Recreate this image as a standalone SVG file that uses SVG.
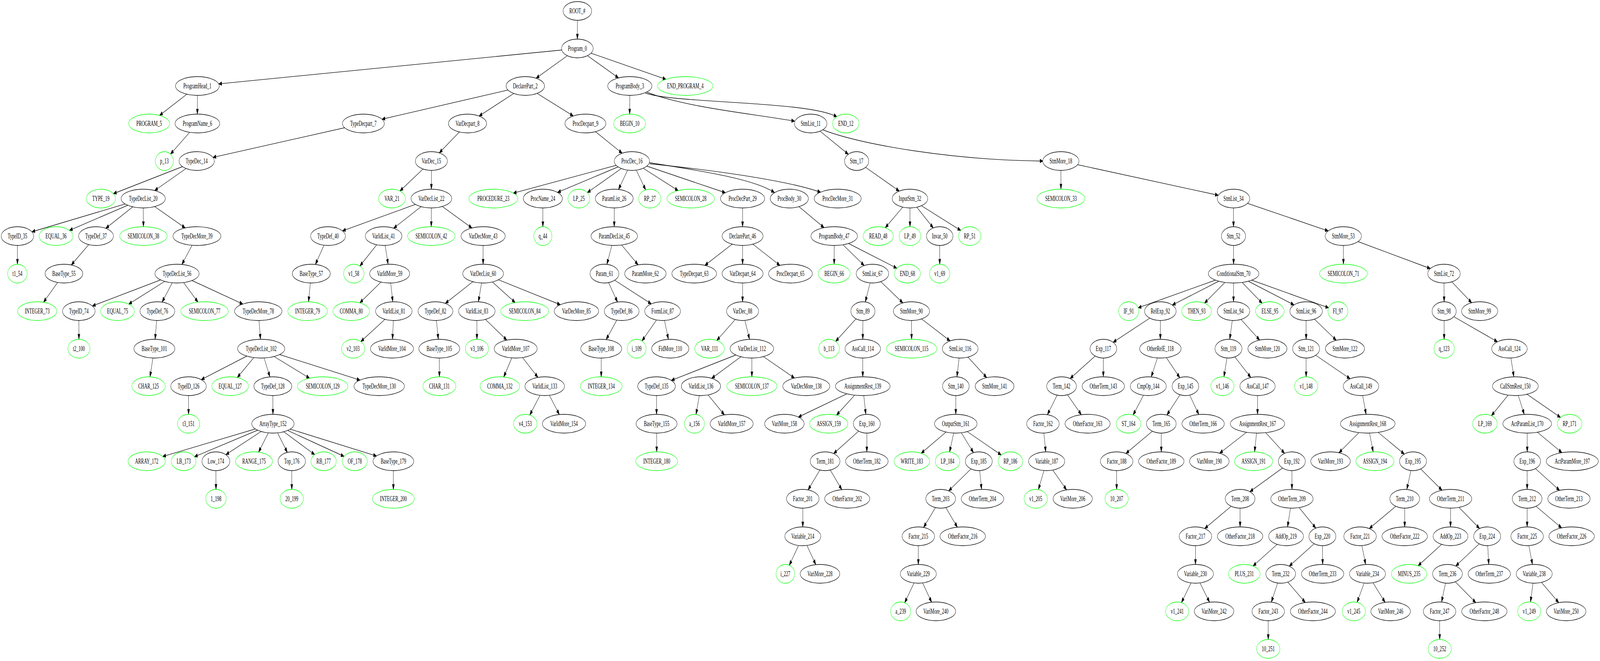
<svg xmlns="http://www.w3.org/2000/svg" width="6882" height="1691" viewBox="0 0 6882 1691" preserveAspectRatio="none" style="width:100vw;height:100vh;display:block">
<defs>
<style>
.k ellipse{fill:#fff;stroke:#000;stroke-width:1.32}
.g ellipse{fill:#fff;stroke:#00ff00;stroke-width:1.32}
text{font-family:"Liberation Serif","Times New Roman",serif;font-size:18.5px;text-anchor:middle;fill:#000}
#edges path{fill:none;stroke:#000;stroke-width:1.32}
</style>
<marker id="a" markerUnits="userSpaceOnUse" markerWidth="16" markerHeight="12" viewBox="-1 -1 16 12" refX="13" refY="4.6" orient="auto">
<path d="M0,0 L13,4.6 L0,9.2 Z" fill="#000" stroke="#000" stroke-width="1"/>
</marker>
</defs>
<rect width="6882" height="1691" fill="#fff"/>
<g id="edges" marker-end="url(#a)">
<path d="M2483.5,28 L2483.5,100"/>
<path d="M2483.5,124 L940.6,214.6"/>
<path d="M2483.5,124 L2305.8,200.1"/>
<path d="M2483.5,124 L2660.5,199.4"/>
<path d="M2483.5,124 L2864.5,202.8"/>
<path d="M849,220 L686.2,295.3"/>
<path d="M849,220 L849,292"/>
<path d="M2259.5,220 L1642.9,305"/>
<path d="M2259.5,220 L2060.5,296.9"/>
<path d="M2259.5,220 L2465.9,296.7"/>
<path d="M2709,220 L2708.4,292"/>
<path d="M2783,236 C2950,275 3250,292 3418,310"/>
<path d="M2776,238 C2900,265 3480,258 3600,299"/>
<path d="M849,316 L733.3,394.3"/>
<path d="M1563,316 L916,402.6"/>
<path d="M2011,316 L1889.4,391.1"/>
<path d="M2518,316 L2676.2,392"/>
<path d="M3487,316 L3648.8,394.6"/>
<path d="M3539,332 C3700,370 4100,410 4486,412"/>
<path d="M846,412 L487.7,495.5"/>
<path d="M846,412 L665.2,487.5"/>
<path d="M1855.5,412 L1720.2,488.6"/>
<path d="M1855.5,412 L1855.5,484"/>
<path d="M2718,412 L2207.8,494.2"/>
<path d="M2718,412 L2398.2,492.2"/>
<path d="M2718,412 L2526.3,492.7"/>
<path d="M2718,412 L2660.5,484.6"/>
<path d="M2718,412 L2777.1,485.7"/>
<path d="M2718,412 L2917.2,487.6"/>
<path d="M2718,412 L3119.8,493"/>
<path d="M2792,416 C3050,440 3250,460 3331,492.5"/>
<path d="M2794,419 C3150,440 3420,468 3530,492"/>
<path d="M3684.6,412 L3868.1,488.8"/>
<path d="M4563,412 L4563.5,484"/>
<path d="M4563,412 L5240.1,499.5"/>
<path d="M616,508 L137.2,593"/>
<path d="M616,508 L298.6,589.3"/>
<path d="M616,508 L455,584.1"/>
<path d="M616,508 L617,580"/>
<path d="M616,508 L796.6,583.1"/>
<path d="M1855.5,508 L1473.2,590.6"/>
<path d="M1855.5,508 L1693.1,583.9"/>
<path d="M1855.5,508 L1855,580"/>
<path d="M1855.5,508 L2030,583.3"/>
<path d="M2335,508 L2335,580"/>
<path d="M2642,508 L2642,580"/>
<path d="M3194,508 L3194,580"/>
<path d="M3395,508 L3544.5,582.4"/>
<path d="M3914,508 L3807.7,582.8"/>
<path d="M3914,508 L3914,580"/>
<path d="M3914,508 L4014.1,583.1"/>
<path d="M3914,508 L4132.5,589.6"/>
<path d="M5305.6,508 L5305.6,580"/>
<path d="M5305.6,508 L5712.9,590.8"/>
<path d="M75,604 L75,676"/>
<path d="M413,604 L306.7,677.9"/>
<path d="M847,604 L782.4,676.6"/>
<path d="M1411,604 L1356.6,676.6"/>
<path d="M1650,604 L1547.9,680.6"/>
<path d="M1650,604 L1669.5,676.1"/>
<path d="M2078,604 L2078,676"/>
<path d="M2642,604 L2610.4,676.3"/>
<path d="M2642,604 L2744.6,677.5"/>
<path d="M3194,604 L3031.7,678.9"/>
<path d="M3194,604 L3194,676"/>
<path d="M3194,604 L3354.8,679"/>
<path d="M3588,604 L3588,676"/>
<path d="M3588,604 L3717.1,679.3"/>
<path d="M3588,604 L3857.4,686.1"/>
<path d="M4042,604 L4042,676"/>
<path d="M5305.6,604 L5306,676"/>
<path d="M5778,604 L5778.5,676"/>
<path d="M5778,604 L6152.2,687"/>
<path d="M275,700 L187.2,773.3"/>
<path d="M761.5,700 L397.3,782.7"/>
<path d="M761.5,700 L553.6,778"/>
<path d="M761.5,700 L697.3,772.9"/>
<path d="M761.5,700 L851.5,773"/>
<path d="M761.5,700 L1044.6,777.8"/>
<path d="M1339,700 L1327,772.1"/>
<path d="M1676,700 L1547.6,774.7"/>
<path d="M1676,700 L1689.5,772"/>
<path d="M2078,700 L1915.3,776.2"/>
<path d="M2078,700 L2057.7,772.1"/>
<path d="M2078,700 L2216,774"/>
<path d="M2078,700 L2410.2,779.5"/>
<path d="M2600,700 L2656,772.7"/>
<path d="M2600,700 L2801.5,777.4"/>
<path d="M3194,700 L3194,772"/>
<path d="M3752.6,700 L3721.7,772.5"/>
<path d="M3752.6,700 L3883.5,774.9"/>
<path d="M5306,700 L4895.6,787.4"/>
<path d="M5306,700 L5042.5,780.3"/>
<path d="M5306,700 L5180.8,775.6"/>
<path d="M5306,700 L5305.6,772"/>
<path d="M5306,700 L5429.1,775.7"/>
<path d="M5306,700 L5565.9,780"/>
<path d="M5306,700 L5714.8,787.4"/>
<path d="M6211,700 L6211.6,772"/>
<path d="M6211,700 L6330.1,774.5"/>
<path d="M339,796 L339.5,868"/>
<path d="M677,796 L667.2,868"/>
<path d="M1111,796 L1120.4,868"/>
<path d="M1694,796 L1551.9,873.9"/>
<path d="M1694,796 L1688,868"/>
<path d="M1873,796 L1885.4,868"/>
<path d="M2051,796 L2051.5,868"/>
<path d="M2051,796 L2179.9,870.1"/>
<path d="M2674,796 L2607.3,868.7"/>
<path d="M2850,796 L2761.4,872.2"/>
<path d="M2850,796 L2874.8,868.1"/>
<path d="M3194,796 L3083,871"/>
<path d="M3194,796 L3224.1,868.1"/>
<path d="M3711.7,796 L3594.2,873.4"/>
<path d="M3711.7,796 L3711,868"/>
<path d="M3920.5,796 L3921,868"/>
<path d="M3920.5,796 L4086.7,872.2"/>
<path d="M4991,796 L4787.9,875.6"/>
<path d="M4991,796 L4991,868"/>
<path d="M5305.6,796 L5289.4,868.1"/>
<path d="M5305.6,796 L5418.1,870"/>
<path d="M5618,796 L5618,868"/>
<path d="M5618,796 L5747.6,870.5"/>
<path d="M6211.6,796 L6211.6,868"/>
<path d="M6211.6,796 L6440.8,874.3"/>
<path d="M664,892 L645.2,964.1"/>
<path d="M1123.5,892 L865.7,971.2"/>
<path d="M1123.5,892 L1020.7,965.9"/>
<path d="M1123.5,892 L1161.1,964.3"/>
<path d="M1123.5,892 L1331.5,967.5"/>
<path d="M1123.5,892 L1548.5,972.4"/>
<path d="M1889.5,892 L1890,964"/>
<path d="M2218,892 L2166.7,964.5"/>
<path d="M2218,892 L2313.7,965.5"/>
<path d="M2586,892 L2586,964"/>
<path d="M3234,892 L2887.6,973.1"/>
<path d="M3234,892 L3060.9,967.9"/>
<path d="M3234,892 L3234,964"/>
<path d="M3234,892 L3417.4,967.2"/>
<path d="M3711,892 L3711,964"/>
<path d="M4130,892 L4116,964"/>
<path d="M4130,892 L4244.2,966.1"/>
<path d="M4746,892 L4602.8,968.4"/>
<path d="M4746,892 L4745.6,964"/>
<path d="M4991,892 L4951.8,964.3"/>
<path d="M4991,892 L5074.6,966.3"/>
<path d="M5284,892 L5264.4,964.2"/>
<path d="M5284,892 L5380.1,965.8"/>
<path d="M5618,892 L5618,964"/>
<path d="M5618,892 L5807.3,969"/>
<path d="M6492.5,892 L6511.6,964"/>
<path d="M811,988 L811,1060"/>
<path d="M1173.5,988 L1174,1060"/>
<path d="M2343,988 L2278.8,1061.8"/>
<path d="M2343,988 L2405.7,1060.6"/>
<path d="M2824,988 L2824,1060"/>
<path d="M3015,988 L2993.9,1060.3"/>
<path d="M3015,988 L3115.9,1061.4"/>
<path d="M3711,988 L3433.8,1067"/>
<path d="M3711,988 L3598,1062.1"/>
<path d="M3711,988 L3724.1,1060.1"/>
<path d="M4111.4,988 L4111,1060"/>
<path d="M4566,988 L4505.2,1060.9"/>
<path d="M4566,988 L4651.1,1060.9"/>
<path d="M4939,988 L4873.7,1061.7"/>
<path d="M5099,988 L5019.1,1061.8"/>
<path d="M5099,988 L5156.4,1060.5"/>
<path d="M5409,988 L5409,1060"/>
<path d="M5854,988 L5875.8,1060"/>
<path d="M6518,988 L6414.9,1063.6"/>
<path d="M6518,988 L6556.3,1060.2"/>
<path d="M6518,988 L6712.2,1067.9"/>
<path d="M1174,1084 L699.9,1167.8"/>
<path d="M1174,1084 L836.4,1168.4"/>
<path d="M1174,1084 L971.5,1163.2"/>
<path d="M1174,1084 L1112.2,1156.8"/>
<path d="M1174,1084 L1235.8,1157.3"/>
<path d="M1174,1084 L1353.5,1163"/>
<path d="M1174,1084 L1480,1167.5"/>
<path d="M1174,1084 L1619.5,1166.6"/>
<path d="M2824,1084 L2824.7,1156"/>
<path d="M3728.5,1084 L3585.7,1160.4"/>
<path d="M3728.5,1084 L3728.5,1156"/>
<path d="M4111,1084 L3962.2,1159.6"/>
<path d="M4111,1084 L4084.3,1156.3"/>
<path d="M4111,1084 L4187.2,1157.9"/>
<path d="M4111,1084 L4306.6,1163.9"/>
<path d="M4486,1084 L4498,1156"/>
<path d="M4995,1084 L4842.6,1160.2"/>
<path d="M4995,1084 L4995,1156"/>
<path d="M5409,1084 L5245.9,1159.5"/>
<path d="M5409,1084 L5396.2,1156"/>
<path d="M5409,1084 L5525.4,1159.7"/>
<path d="M5883,1084 L5759.2,1158.3"/>
<path d="M5883,1084 L5906.3,1156.1"/>
<path d="M5883,1084 L6040.4,1161.6"/>
<path d="M6569,1084 L6569,1156"/>
<path d="M6569,1084 L6718.3,1158"/>
<path d="M928.6,1180 L929,1252"/>
<path d="M1255,1180 L1255,1252"/>
<path d="M1692,1180 L1692,1252"/>
<path d="M3549,1180 L3475.7,1253.3"/>
<path d="M3549,1180 L3620.9,1252.7"/>
<path d="M4210,1180 L4080.5,1255.8"/>
<path d="M4210,1180 L4222,1252"/>
<path d="M4502,1180 L4466.4,1252.6"/>
<path d="M4502,1180 L4587.4,1253.2"/>
<path d="M4803,1180 L4803,1252"/>
<path d="M5556.5,1180 L5376,1257.9"/>
<path d="M5556.5,1180 L5557,1252"/>
<path d="M6077.7,1180 L6050.8,1252.2"/>
<path d="M6077.7,1180 L6202.5,1254.1"/>
<path d="M6569,1180 L6568.6,1252"/>
<path d="M6569,1180 L6708.3,1254.5"/>
<path d="M3453,1276 L3453,1348"/>
<path d="M4046,1276 L3972.7,1349.3"/>
<path d="M4046,1276 L4117.9,1348.7"/>
<path d="M5334,1276 L5181.6,1352.2"/>
<path d="M5334,1276 L5334,1348"/>
<path d="M5557,1276 L5538,1348.1"/>
<path d="M5557,1276 L5659.5,1351.1"/>
<path d="M6042,1276 L5889.6,1352.2"/>
<path d="M6042,1276 L6042,1348"/>
<path d="M6239.4,1276 L6239,1348"/>
<path d="M6239.4,1276 L6364.2,1352.1"/>
<path d="M6568.6,1276 L6568.6,1348"/>
<path d="M6568.6,1276 L6717,1350.5"/>
<path d="M3453,1372 L3395,1446.3"/>
<path d="M3453,1372 L3508.9,1444.6"/>
<path d="M3950,1372 L3950,1444"/>
<path d="M5142,1372 L5142,1444"/>
<path d="M5531.7,1372 L5389.5,1448"/>
<path d="M5688,1372 L5545.3,1448.4"/>
<path d="M5688,1372 L5689,1444"/>
<path d="M5850,1372 L5874,1444.1"/>
<path d="M6239,1372 L6099.5,1447.3"/>
<path d="M6396.7,1372 L6261.5,1448"/>
<path d="M6396.7,1372 L6403.6,1444"/>
<path d="M6568.6,1372 L6591.4,1444.1"/>
<path d="M3950,1468 L3891.4,1542"/>
<path d="M3950,1468 L4007.1,1540.6"/>
<path d="M5142,1468 L5081.8,1541.7"/>
<path d="M5142,1468 L5202.5,1540.6"/>
<path d="M5508.6,1468 L5468.2,1540.4"/>
<path d="M5508.6,1468 L5614.4,1541.4"/>
<path d="M5882,1468 L5837.1,1541"/>
<path d="M5882,1468 L5957.6,1541"/>
<path d="M6226,1468 L6200.4,1540.2"/>
<path d="M6226,1468 L6347.9,1541.8"/>
<path d="M6599,1468 L6583,1540.1"/>
<path d="M6599,1468 L6704.6,1541.8"/>
<path d="M5455,1564 L5455,1636"/>
<path d="M6192,1564 L6192.5,1636"/>
</g>
<g id="nodes">
<g id="n-ROOT" class="k"><ellipse cx="2483.5" cy="28" rx="61.5" ry="24"/><text x="2483.5" y="34">ROOT_#</text></g>
<g id="n-Program_0" class="k"><ellipse cx="2483.5" cy="124" rx="68" ry="24"/><text x="2483.5" y="130">Program_0</text></g>
<g id="n-ProgramHead_1" class="k"><ellipse cx="849" cy="220" rx="94" ry="24"/><text x="849" y="226">ProgramHead_1</text></g>
<g id="n-DeclarePart_2" class="k"><ellipse cx="2259.5" cy="220" rx="82.5" ry="24"/><text x="2259.5" y="226">DeclarePart_2</text></g>
<g id="n-ProgramBody_3" class="k"><ellipse cx="2709" cy="220" rx="95" ry="24"/><text x="2709" y="226">ProgramBody_3</text></g>
<g id="n-END_PROGRAM_4" class="g"><ellipse cx="2947.6" cy="220" rx="119" ry="24"/><text x="2947.6" y="226">END_PROGRAM_4</text></g>
<g id="n-PROGRAM_5" class="g"><ellipse cx="641.5" cy="316" rx="88" ry="24"/><text x="641.5" y="322">PROGRAM_5</text></g>
<g id="n-ProgramName_6" class="k"><ellipse cx="849" cy="316" rx="96" ry="24"/><text x="849" y="322">ProgramName_6</text></g>
<g id="n-TypeDecpart_7" class="k"><ellipse cx="1563" cy="316" rx="90" ry="24"/><text x="1563" y="322">TypeDecpart_7</text></g>
<g id="n-VarDecpart_8" class="k"><ellipse cx="2011" cy="316" rx="82" ry="24"/><text x="2011" y="322">VarDecpart_8</text></g>
<g id="n-ProcDecpart_9" class="k"><ellipse cx="2518" cy="316" rx="88" ry="24"/><text x="2518" y="322">ProcDecpart_9</text></g>
<g id="n-BEGIN_10" class="g"><ellipse cx="2708.4" cy="316" rx="69" ry="24"/><text x="2708.4" y="322">BEGIN_10</text></g>
<g id="n-StmList_11" class="k"><ellipse cx="3487" cy="316" rx="70" ry="24"/><text x="3487" y="322">StmList_11</text></g>
<g id="n-END_12" class="g"><ellipse cx="3638" cy="316" rx="57" ry="24"/><text x="3638" y="322">END_12</text></g>
<g id="n-p_13" class="g"><ellipse cx="707" cy="412" rx="39" ry="24"/><text x="707" y="418">p_13</text></g>
<g id="n-TypeDec_14" class="k"><ellipse cx="846" cy="412" rx="76" ry="24"/><text x="846" y="418">TypeDec_14</text></g>
<g id="n-VarDec_15" class="k"><ellipse cx="1855.5" cy="412" rx="69" ry="24"/><text x="1855.5" y="418">VarDec_15</text></g>
<g id="n-ProcDec_16" class="k"><ellipse cx="2718" cy="412" rx="76" ry="24"/><text x="2718" y="418">ProcDec_16</text></g>
<g id="n-Stm_17" class="k"><ellipse cx="3684.6" cy="412" rx="52" ry="24"/><text x="3684.6" y="418">Stm_17</text></g>
<g id="n-StmMore_18" class="k"><ellipse cx="4563" cy="412" rx="78" ry="24"/><text x="4563" y="418">StmMore_18</text></g>
<g id="n-TYPE_19" class="g"><ellipse cx="434" cy="508" rx="63" ry="24"/><text x="434" y="514">TYPE_19</text></g>
<g id="n-TypeDecList_20" class="k"><ellipse cx="616" cy="508" rx="95" ry="24"/><text x="616" y="514">TypeDecList_20</text></g>
<g id="n-VAR_21" class="g"><ellipse cx="1686" cy="508" rx="58" ry="24"/><text x="1686" y="514">VAR_21</text></g>
<g id="n-VarDecList_22" class="k"><ellipse cx="1855.5" cy="508" rx="87.5" ry="24"/><text x="1855.5" y="514">VarDecList_22</text></g>
<g id="n-PROCEDURE_23" class="g"><ellipse cx="2122" cy="508" rx="105" ry="24"/><text x="2122" y="514">PROCEDURE_23</text></g>
<g id="n-ProcName_24" class="k"><ellipse cx="2335" cy="508" rx="84" ry="24"/><text x="2335" y="514">ProcName_24</text></g>
<g id="n-LP_25" class="g"><ellipse cx="2490" cy="508" rx="47" ry="24"/><text x="2490" y="514">LP_25</text></g>
<g id="n-ParamList_26" class="k"><ellipse cx="2642" cy="508" rx="81.5" ry="24"/><text x="2642" y="514">ParamList_26</text></g>
<g id="n-RP_27" class="g"><ellipse cx="2795" cy="508" rx="48" ry="24"/><text x="2795" y="514">RP_27</text></g>
<g id="n-SEMICOLON_28" class="g"><ellipse cx="2971" cy="508" rx="102" ry="24"/><text x="2971" y="514">SEMICOLON_28</text></g>
<g id="n-ProcDecPart_29" class="k"><ellipse cx="3194" cy="508" rx="95" ry="24"/><text x="3194" y="514">ProcDecPart_29</text></g>
<g id="n-ProcBody_30" class="k"><ellipse cx="3395" cy="508" rx="82" ry="24"/><text x="3395" y="514">ProcBody_30</text></g>
<g id="n-ProcDecMore_31" class="k"><ellipse cx="3603" cy="508" rx="101" ry="24"/><text x="3603" y="514">ProcDecMore_31</text></g>
<g id="n-InputStm_32" class="k"><ellipse cx="3914" cy="508" rx="76.5" ry="24"/><text x="3914" y="514">InputStm_32</text></g>
<g id="n-SEMICOLON_33" class="g"><ellipse cx="4563.5" cy="508" rx="103" ry="24"/><text x="4563.5" y="514">SEMICOLON_33</text></g>
<g id="n-StmList_34" class="k"><ellipse cx="5305.6" cy="508" rx="70" ry="24"/><text x="5305.6" y="514">StmList_34</text></g>
<g id="n-TypeID_35" class="k"><ellipse cx="75" cy="604" rx="70" ry="24"/><text x="75" y="610">TypeID_35</text></g>
<g id="n-EQUAL_36" class="g"><ellipse cx="241" cy="604" rx="73" ry="24"/><text x="241" y="610">EQUAL_36</text></g>
<g id="n-TypeDef_37" class="k"><ellipse cx="413" cy="604" rx="75" ry="24"/><text x="413" y="610">TypeDef_37</text></g>
<g id="n-SEMICOLON_38" class="g"><ellipse cx="617" cy="604" rx="102" ry="24"/><text x="617" y="610">SEMICOLON_38</text></g>
<g id="n-TypeDecMore_39" class="k"><ellipse cx="847" cy="604" rx="103" ry="24"/><text x="847" y="610">TypeDecMore_39</text></g>
<g id="n-TypeDef_40" class="k"><ellipse cx="1411" cy="604" rx="75" ry="24"/><text x="1411" y="610">TypeDef_40</text></g>
<g id="n-VarIdList_41" class="k"><ellipse cx="1650" cy="604" rx="79" ry="24"/><text x="1650" y="610">VarIdList_41</text></g>
<g id="n-SEMICOLON_42" class="g"><ellipse cx="1855" cy="604" rx="102" ry="24"/><text x="1855" y="610">SEMICOLON_42</text></g>
<g id="n-VarDecMore_43" class="k"><ellipse cx="2078" cy="604" rx="95" ry="24"/><text x="2078" y="610">VarDecMore_43</text></g>
<g id="n-q_44" class="g"><ellipse cx="2335" cy="604" rx="39" ry="24"/><text x="2335" y="610">q_44</text></g>
<g id="n-ParamDecList_45" class="k"><ellipse cx="2642" cy="604" rx="100" ry="24"/><text x="2642" y="610">ParamDecList_45</text></g>
<g id="n-DeclarePart_46" class="k"><ellipse cx="3194" cy="604" rx="88" ry="24"/><text x="3194" y="610">DeclarePart_46</text></g>
<g id="n-ProgramBody_47" class="k"><ellipse cx="3588" cy="604" rx="100" ry="24"/><text x="3588" y="610">ProgramBody_47</text></g>
<g id="n-READ_48" class="g"><ellipse cx="3777.5" cy="604" rx="65" ry="24"/><text x="3777.5" y="610">READ_48</text></g>
<g id="n-LP_49" class="g"><ellipse cx="3914" cy="604" rx="46.5" ry="24"/><text x="3914" y="610">LP_49</text></g>
<g id="n-Invar_50" class="k"><ellipse cx="4042" cy="604" rx="57" ry="24"/><text x="4042" y="610">Invar_50</text></g>
<g id="n-RP_51" class="g"><ellipse cx="4171" cy="604" rx="48" ry="24"/><text x="4171" y="610">RP_51</text></g>
<g id="n-Stm_52" class="k"><ellipse cx="5305.6" cy="604" rx="52" ry="24"/><text x="5305.6" y="610">Stm_52</text></g>
<g id="n-StmMore_53" class="k"><ellipse cx="5778" cy="604" rx="78" ry="24"/><text x="5778" y="610">StmMore_53</text></g>
<g id="n-t1_54" class="g"><ellipse cx="75" cy="700" rx="42" ry="24"/><text x="75" y="706">t1_54</text></g>
<g id="n-BaseType_55" class="k"><ellipse cx="275" cy="700" rx="81" ry="24"/><text x="275" y="706">BaseType_55</text></g>
<g id="n-TypeDecList_56" class="k"><ellipse cx="761.5" cy="700" rx="95" ry="24"/><text x="761.5" y="706">TypeDecList_56</text></g>
<g id="n-BaseType_57" class="k"><ellipse cx="1339" cy="700" rx="81.5" ry="24"/><text x="1339" y="706">BaseType_57</text></g>
<g id="n-v1_58" class="g"><ellipse cx="1522" cy="700" rx="44" ry="24"/><text x="1522" y="706">v1_58</text></g>
<g id="n-VarIdMore_59" class="k"><ellipse cx="1676" cy="700" rx="86" ry="24"/><text x="1676" y="706">VarIdMore_59</text></g>
<g id="n-VarDecList_60" class="k"><ellipse cx="2078" cy="700" rx="87.5" ry="24"/><text x="2078" y="706">VarDecList_60</text></g>
<g id="n-Param_61" class="k"><ellipse cx="2600" cy="700" rx="62" ry="24"/><text x="2600" y="706">Param_61</text></g>
<g id="n-ParamMore_62" class="k"><ellipse cx="2776" cy="700" rx="89" ry="24"/><text x="2776" y="706">ParamMore_62</text></g>
<g id="n-TypeDecpart_63" class="k"><ellipse cx="2986" cy="700" rx="96" ry="24"/><text x="2986" y="706">TypeDecpart_63</text></g>
<g id="n-VarDecpart_64" class="k"><ellipse cx="3194" cy="700" rx="88" ry="24"/><text x="3194" y="706">VarDecpart_64</text></g>
<g id="n-ProcDecpart_65" class="k"><ellipse cx="3400" cy="700" rx="94" ry="24"/><text x="3400" y="706">ProcDecpart_65</text></g>
<g id="n-BEGIN_66" class="g"><ellipse cx="3588" cy="700" rx="69" ry="24"/><text x="3588" y="706">BEGIN_66</text></g>
<g id="n-StmList_67" class="k"><ellipse cx="3752.6" cy="700" rx="70" ry="24"/><text x="3752.6" y="706">StmList_67</text></g>
<g id="n-END_68" class="g"><ellipse cx="3903" cy="700" rx="56" ry="24"/><text x="3903" y="706">END_68</text></g>
<g id="n-v1_69" class="g"><ellipse cx="4042" cy="700" rx="43.5" ry="24"/><text x="4042" y="706">v1_69</text></g>
<g id="n-ConditionalStm_70" class="k"><ellipse cx="5306" cy="700" rx="108.6" ry="24"/><text x="5306" y="706">ConditionalStm_70</text></g>
<g id="n-SEMICOLON_71" class="g"><ellipse cx="5778.5" cy="700" rx="102.6" ry="24"/><text x="5778.5" y="706">SEMICOLON_71</text></g>
<g id="n-StmList_72" class="k"><ellipse cx="6211" cy="700" rx="70" ry="24"/><text x="6211" y="706">StmList_72</text></g>
<g id="n-INTEGER_73" class="g"><ellipse cx="160" cy="796" rx="84.5" ry="24"/><text x="160" y="802">INTEGER_73</text></g>
<g id="n-TypeID_74" class="k"><ellipse cx="339" cy="796" rx="70" ry="24"/><text x="339" y="802">TypeID_74</text></g>
<g id="n-EQUAL_75" class="g"><ellipse cx="505.5" cy="796" rx="73" ry="24"/><text x="505.5" y="802">EQUAL_75</text></g>
<g id="n-TypeDef_76" class="k"><ellipse cx="677" cy="796" rx="75" ry="24"/><text x="677" y="802">TypeDef_76</text></g>
<g id="n-SEMICOLON_77" class="g"><ellipse cx="880" cy="796" rx="102" ry="24"/><text x="880" y="802">SEMICOLON_77</text></g>
<g id="n-TypeDecMore_78" class="k"><ellipse cx="1111" cy="796" rx="102" ry="24"/><text x="1111" y="802">TypeDecMore_78</text></g>
<g id="n-INTEGER_79" class="g"><ellipse cx="1323" cy="796" rx="85" ry="24"/><text x="1323" y="802">INTEGER_79</text></g>
<g id="n-COMMA_80" class="g"><ellipse cx="1511" cy="796" rx="79" ry="24"/><text x="1511" y="802">COMMA_80</text></g>
<g id="n-VarIdList_81" class="k"><ellipse cx="1694" cy="796" rx="78.6" ry="24"/><text x="1694" y="802">VarIdList_81</text></g>
<g id="n-TypeDef_82" class="k"><ellipse cx="1873" cy="796" rx="75" ry="24"/><text x="1873" y="802">TypeDef_82</text></g>
<g id="n-VarIdList_83" class="k"><ellipse cx="2051" cy="796" rx="78.6" ry="24"/><text x="2051" y="802">VarIdList_83</text></g>
<g id="n-SEMICOLON_84" class="g"><ellipse cx="2257" cy="796" rx="103" ry="24"/><text x="2257" y="802">SEMICOLON_84</text></g>
<g id="n-VarDecMore_85" class="k"><ellipse cx="2479.4" cy="796" rx="95.5" ry="24"/><text x="2479.4" y="802">VarDecMore_85</text></g>
<g id="n-TypeDef_86" class="k"><ellipse cx="2674" cy="796" rx="75" ry="24"/><text x="2674" y="802">TypeDef_86</text></g>
<g id="n-FormList_87" class="k"><ellipse cx="2850" cy="796" rx="77" ry="24"/><text x="2850" y="802">FormList_87</text></g>
<g id="n-VarDec_88" class="k"><ellipse cx="3194" cy="796" rx="69" ry="24"/><text x="3194" y="802">VarDec_88</text></g>
<g id="n-Stm_89" class="k"><ellipse cx="3711.7" cy="796" rx="52" ry="24"/><text x="3711.7" y="802">Stm_89</text></g>
<g id="n-StmMore_90" class="k"><ellipse cx="3920.5" cy="796" rx="78" ry="24"/><text x="3920.5" y="802">StmMore_90</text></g>
<g id="n-IF_91" class="g"><ellipse cx="4855" cy="796" rx="43.5" ry="24"/><text x="4855" y="802">IF_91</text></g>
<g id="n-RelExp_92" class="k"><ellipse cx="4991" cy="796" rx="68" ry="24"/><text x="4991" y="802">RelExp_92</text></g>
<g id="n-THEN_93" class="g"><ellipse cx="5147" cy="796" rx="64" ry="24"/><text x="5147" y="802">THEN_93</text></g>
<g id="n-StmList_94" class="k"><ellipse cx="5305.6" cy="796" rx="70" ry="24"/><text x="5305.6" y="802">StmList_94</text></g>
<g id="n-ELSE_95" class="g"><ellipse cx="5462" cy="796" rx="61.5" ry="24"/><text x="5462" y="802">ELSE_95</text></g>
<g id="n-StmList_96" class="k"><ellipse cx="5618" cy="796" rx="70" ry="24"/><text x="5618" y="802">StmList_96</text></g>
<g id="n-FI_97" class="g"><ellipse cx="5755" cy="796" rx="43" ry="24"/><text x="5755" y="802">FI_97</text></g>
<g id="n-Stm_98" class="k"><ellipse cx="6211.6" cy="796" rx="52" ry="24"/><text x="6211.6" y="802">Stm_98</text></g>
<g id="n-StmMore_99" class="k"><ellipse cx="6364.5" cy="796" rx="78" ry="24"/><text x="6364.5" y="802">StmMore_99</text></g>
<g id="n-t2_100" class="g"><ellipse cx="339.5" cy="892" rx="47.5" ry="24"/><text x="339.5" y="898">t2_100</text></g>
<g id="n-BaseType_101" class="k"><ellipse cx="664" cy="892" rx="88" ry="24"/><text x="664" y="898">BaseType_101</text></g>
<g id="n-TypeDecList_102" class="k"><ellipse cx="1123.5" cy="892" rx="101.5" ry="24"/><text x="1123.5" y="898">TypeDecList_102</text></g>
<g id="n-v2_103" class="g"><ellipse cx="1519" cy="892" rx="50" ry="24"/><text x="1519" y="898">v2_103</text></g>
<g id="n-VarIdMore_104" class="k"><ellipse cx="1686" cy="892" rx="92.5" ry="24"/><text x="1686" y="898">VarIdMore_104</text></g>
<g id="n-BaseType_105" class="k"><ellipse cx="1889.5" cy="892" rx="88" ry="24"/><text x="1889.5" y="898">BaseType_105</text></g>
<g id="n-v3_106" class="g"><ellipse cx="2051.5" cy="892" rx="50" ry="24"/><text x="2051.5" y="898">v3_106</text></g>
<g id="n-VarIdMore_107" class="k"><ellipse cx="2218" cy="892" rx="92.5" ry="24"/><text x="2218" y="898">VarIdMore_107</text></g>
<g id="n-BaseType_108" class="k"><ellipse cx="2586" cy="892" rx="88" ry="24"/><text x="2586" y="898">BaseType_108</text></g>
<g id="n-i_109" class="g"><ellipse cx="2738.4" cy="892" rx="40.6" ry="24"/><text x="2738.4" y="898">i_109</text></g>
<g id="n-FidMore_110" class="k"><ellipse cx="2883" cy="892" rx="80" ry="24"/><text x="2883" y="898">FidMore_110</text></g>
<g id="n-VAR_111" class="g"><ellipse cx="3052" cy="892" rx="64" ry="24"/><text x="3052" y="898">VAR_111</text></g>
<g id="n-VarDecList_112" class="k"><ellipse cx="3234" cy="892" rx="93.6" ry="24"/><text x="3234" y="898">VarDecList_112</text></g>
<g id="n-b_113" class="g"><ellipse cx="3566" cy="892" rx="44.6" ry="24"/><text x="3566" y="898">b_113</text></g>
<g id="n-AssCall_114" class="k"><ellipse cx="3711" cy="892" rx="76.5" ry="24"/><text x="3711" y="898">AssCall_114</text></g>
<g id="n-SEMICOLON_115" class="g"><ellipse cx="3921" cy="892" rx="109" ry="24"/><text x="3921" y="898">SEMICOLON_115</text></g>
<g id="n-StmList_116" class="k"><ellipse cx="4130" cy="892" rx="77" ry="24"/><text x="4130" y="898">StmList_116</text></g>
<g id="n-Exp_117" class="k"><ellipse cx="4746" cy="892" rx="57.4" ry="24"/><text x="4746" y="898">Exp_117</text></g>
<g id="n-OtherRelE_118" class="k"><ellipse cx="4991" cy="892" rx="89" ry="24"/><text x="4991" y="898">OtherRelE_118</text></g>
<g id="n-Stm_119" class="k"><ellipse cx="5284" cy="892" rx="58" ry="24"/><text x="5284" y="898">Stm_119</text></g>
<g id="n-StmMore_120" class="k"><ellipse cx="5451.6" cy="892" rx="84" ry="24"/><text x="5451.6" y="898">StmMore_120</text></g>
<g id="n-Stm_121" class="k"><ellipse cx="5618" cy="892" rx="58" ry="24"/><text x="5618" y="898">Stm_121</text></g>
<g id="n-StmMore_122" class="k"><ellipse cx="5785" cy="892" rx="84" ry="24"/><text x="5785" y="898">StmMore_122</text></g>
<g id="n-q_123" class="g"><ellipse cx="6211.6" cy="892" rx="44" ry="24"/><text x="6211.6" y="898">q_123</text></g>
<g id="n-AssCall_124" class="k"><ellipse cx="6492.5" cy="892" rx="76.5" ry="24"/><text x="6492.5" y="898">AssCall_124</text></g>
<g id="n-CHAR_125" class="g"><ellipse cx="639" cy="988" rx="72" ry="24"/><text x="639" y="994">CHAR_125</text></g>
<g id="n-TypeID_126" class="k"><ellipse cx="811" cy="988" rx="76.5" ry="24"/><text x="811" y="994">TypeID_126</text></g>
<g id="n-EQUAL_127" class="g"><ellipse cx="990" cy="988" rx="79" ry="24"/><text x="990" y="994">EQUAL_127</text></g>
<g id="n-TypeDef_128" class="k"><ellipse cx="1173.5" cy="988" rx="81.5" ry="24"/><text x="1173.5" y="994">TypeDef_128</text></g>
<g id="n-SEMICOLON_129" class="g"><ellipse cx="1388" cy="988" rx="108.6" ry="24"/><text x="1388" y="994">SEMICOLON_129</text></g>
<g id="n-TypeDecMore_130" class="k"><ellipse cx="1631" cy="988" rx="108.6" ry="24"/><text x="1631" y="994">TypeDecMore_130</text></g>
<g id="n-CHAR_131" class="g"><ellipse cx="1890" cy="988" rx="71" ry="24"/><text x="1890" y="994">CHAR_131</text></g>
<g id="n-COMMA_132" class="g"><ellipse cx="2150" cy="988" rx="85" ry="24"/><text x="2150" y="994">COMMA_132</text></g>
<g id="n-VarIdList_133" class="k"><ellipse cx="2343" cy="988" rx="85" ry="24"/><text x="2343" y="994">VarIdList_133</text></g>
<g id="n-INTEGER_134" class="g"><ellipse cx="2586" cy="988" rx="89.6" ry="24"/><text x="2586" y="994">INTEGER_134</text></g>
<g id="n-TypeDef_135" class="k"><ellipse cx="2824" cy="988" rx="81" ry="24"/><text x="2824" y="994">TypeDef_135</text></g>
<g id="n-VarIdList_136" class="k"><ellipse cx="3015" cy="988" rx="84.5" ry="24"/><text x="3015" y="994">VarIdList_136</text></g>
<g id="n-SEMICOLON_137" class="g"><ellipse cx="3234" cy="988" rx="108" ry="24"/><text x="3234" y="994">SEMICOLON_137</text></g>
<g id="n-VarDecMore_138" class="k"><ellipse cx="3468" cy="988" rx="101" ry="24"/><text x="3468" y="994">VarDecMore_138</text></g>
<g id="n-AssignmentRest_139" class="k"><ellipse cx="3711" cy="988" rx="117.4" ry="24"/><text x="3711" y="994">AssignmentRest_139</text></g>
<g id="n-Stm_140" class="k"><ellipse cx="4111.4" cy="988" rx="57.4" ry="24"/><text x="4111.4" y="994">Stm_140</text></g>
<g id="n-StmMore_141" class="k"><ellipse cx="4278" cy="988" rx="83.4" ry="24"/><text x="4278" y="994">StmMore_141</text></g>
<g id="n-Term_142" class="k"><ellipse cx="4566" cy="988" rx="64" ry="24"/><text x="4566" y="994">Term_142</text></g>
<g id="n-OtherTerm_143" class="k"><ellipse cx="4745.6" cy="988" rx="91" ry="24"/><text x="4745.6" y="994">OtherTerm_143</text></g>
<g id="n-CmpOp_144" class="k"><ellipse cx="4939" cy="988" rx="77.5" ry="24"/><text x="4939" y="994">CmpOp_144</text></g>
<g id="n-Exp_145" class="k"><ellipse cx="5099" cy="988" rx="57.4" ry="24"/><text x="5099" y="994">Exp_145</text></g>
<g id="n-v1_146" class="g"><ellipse cx="5258" cy="988" rx="50" ry="24"/><text x="5258" y="994">v1_146</text></g>
<g id="n-AssCall_147" class="k"><ellipse cx="5409" cy="988" rx="76" ry="24"/><text x="5409" y="994">AssCall_147</text></g>
<g id="n-v1_148" class="g"><ellipse cx="5618" cy="988" rx="50" ry="24"/><text x="5618" y="994">v1_148</text></g>
<g id="n-AssCall_149" class="k"><ellipse cx="5854" cy="988" rx="76.5" ry="24"/><text x="5854" y="994">AssCall_149</text></g>
<g id="n-CallStmRest_150" class="k"><ellipse cx="6518" cy="988" rx="98.4" ry="24"/><text x="6518" y="994">CallStmRest_150</text></g>
<g id="n-t3_151" class="g"><ellipse cx="811" cy="1084" rx="48" ry="24"/><text x="811" y="1090">t3_151</text></g>
<g id="n-ArrayType_152" class="k"><ellipse cx="1174" cy="1084" rx="91" ry="24"/><text x="1174" y="1090">ArrayType_152</text></g>
<g id="n-v4_153" class="g"><ellipse cx="2259.5" cy="1084" rx="50.5" ry="24"/><text x="2259.5" y="1090">v4_153</text></g>
<g id="n-VarIdMore_154" class="k"><ellipse cx="2426" cy="1084" rx="93" ry="24"/><text x="2426" y="1090">VarIdMore_154</text></g>
<g id="n-BaseType_155" class="k"><ellipse cx="2824" cy="1084" rx="88" ry="24"/><text x="2824" y="1090">BaseType_155</text></g>
<g id="n-a_156" class="g"><ellipse cx="2987" cy="1084" rx="43" ry="24"/><text x="2987" y="1090">a_156</text></g>
<g id="n-VarIdMore_157" class="k"><ellipse cx="3147" cy="1084" rx="92.5" ry="24"/><text x="3147" y="1090">VarIdMore_157</text></g>
<g id="n-VariMore_158" class="k"><ellipse cx="3374" cy="1084" rx="85" ry="24"/><text x="3374" y="1090">VariMore_158</text></g>
<g id="n-ASSIGN_159" class="g"><ellipse cx="3564.6" cy="1084" rx="82" ry="24"/><text x="3564.6" y="1090">ASSIGN_159</text></g>
<g id="n-Exp_160" class="k"><ellipse cx="3728.5" cy="1084" rx="58" ry="24"/><text x="3728.5" y="1090">Exp_160</text></g>
<g id="n-OutputStm_161" class="k"><ellipse cx="4111" cy="1084" rx="91.4" ry="24"/><text x="4111" y="1090">OutputStm_161</text></g>
<g id="n-Factor_162" class="k"><ellipse cx="4486" cy="1084" rx="70" ry="24"/><text x="4486" y="1090">Factor_162</text></g>
<g id="n-OtherFactor_163" class="k"><ellipse cx="4678" cy="1084" rx="97" ry="24"/><text x="4678" y="1090">OtherFactor_163</text></g>
<g id="n-ST_164" class="g"><ellipse cx="4854" cy="1084" rx="53" ry="24"/><text x="4854" y="1090">ST_164</text></g>
<g id="n-Term_165" class="k"><ellipse cx="4995" cy="1084" rx="64" ry="24"/><text x="4995" y="1090">Term_165</text></g>
<g id="n-OtherTerm_166" class="k"><ellipse cx="5175" cy="1084" rx="91" ry="24"/><text x="5175" y="1090">OtherTerm_166</text></g>
<g id="n-AssignmentRest_167" class="k"><ellipse cx="5409" cy="1084" rx="117" ry="24"/><text x="5409" y="1090">AssignmentRest_167</text></g>
<g id="n-AssignmentRest_168" class="k"><ellipse cx="5883" cy="1084" rx="117.4" ry="24"/><text x="5883" y="1090">AssignmentRest_168</text></g>
<g id="n-LP_169" class="g"><ellipse cx="6387" cy="1084" rx="53" ry="24"/><text x="6387" y="1090">LP_169</text></g>
<g id="n-ActParamList_170" class="k"><ellipse cx="6569" cy="1084" rx="104.6" ry="24"/><text x="6569" y="1090">ActParamList_170</text></g>
<g id="n-RP_171" class="g"><ellipse cx="6751.4" cy="1084" rx="53" ry="24"/><text x="6751.4" y="1090">RP_171</text></g>
<g id="n-ARRAY_172" class="g"><ellipse cx="631" cy="1180" rx="80" ry="24"/><text x="631" y="1186">ARRAY_172</text></g>
<g id="n-LB_173" class="g"><ellipse cx="790" cy="1180" rx="53" ry="24"/><text x="790" y="1186">LB_173</text></g>
<g id="n-Low_174" class="k"><ellipse cx="928.6" cy="1180" rx="60" ry="24"/><text x="928.6" y="1186">Low_174</text></g>
<g id="n-RANGE_175" class="g"><ellipse cx="1092.5" cy="1180" rx="79.5" ry="24"/><text x="1092.5" y="1186">RANGE_175</text></g>
<g id="n-Top_176" class="k"><ellipse cx="1255" cy="1180" rx="59" ry="24"/><text x="1255" y="1186">Top_176</text></g>
<g id="n-RB_177" class="g"><ellipse cx="1392" cy="1180" rx="54.5" ry="24"/><text x="1392" y="1186">RB_177</text></g>
<g id="n-OF_178" class="g"><ellipse cx="1526" cy="1180" rx="54" ry="24"/><text x="1526" y="1186">OF_178</text></g>
<g id="n-BaseType_179" class="k"><ellipse cx="1692" cy="1180" rx="87.5" ry="24"/><text x="1692" y="1186">BaseType_179</text></g>
<g id="n-INTEGER_180" class="g"><ellipse cx="2824.7" cy="1180" rx="90" ry="24"/><text x="2824.7" y="1186">INTEGER_180</text></g>
<g id="n-Term_181" class="k"><ellipse cx="3549" cy="1180" rx="64" ry="24"/><text x="3549" y="1186">Term_181</text></g>
<g id="n-OtherTerm_182" class="k"><ellipse cx="3728.5" cy="1180" rx="91.4" ry="24"/><text x="3728.5" y="1186">OtherTerm_182</text></g>
<g id="n-WRITE_183" class="g"><ellipse cx="3922" cy="1180" rx="76.5" ry="24"/><text x="3922" y="1186">WRITE_183</text></g>
<g id="n-LP_184" class="g"><ellipse cx="4075.6" cy="1180" rx="53" ry="24"/><text x="4075.6" y="1186">LP_184</text></g>
<g id="n-Exp_185" class="k"><ellipse cx="4210" cy="1180" rx="58" ry="24"/><text x="4210" y="1186">Exp_185</text></g>
<g id="n-RP_186" class="g"><ellipse cx="4346" cy="1180" rx="53" ry="24"/><text x="4346" y="1186">RP_186</text></g>
<g id="n-Variable_187" class="k"><ellipse cx="4502" cy="1180" rx="78" ry="24"/><text x="4502" y="1186">Variable_187</text></g>
<g id="n-Factor_188" class="k"><ellipse cx="4803" cy="1180" rx="70" ry="24"/><text x="4803" y="1186">Factor_188</text></g>
<g id="n-OtherFactor_189" class="k"><ellipse cx="4995" cy="1180" rx="97.7" ry="24"/><text x="4995" y="1186">OtherFactor_189</text></g>
<g id="n-VariMore_190" class="k"><ellipse cx="5201.7" cy="1180" rx="85" ry="24"/><text x="5201.7" y="1186">VariMore_190</text></g>
<g id="n-ASSIGN_191" class="g"><ellipse cx="5392" cy="1180" rx="82" ry="24"/><text x="5392" y="1186">ASSIGN_191</text></g>
<g id="n-Exp_192" class="k"><ellipse cx="5556.5" cy="1180" rx="58" ry="24"/><text x="5556.5" y="1186">Exp_192</text></g>
<g id="n-VariMore_193" class="k"><ellipse cx="5723" cy="1180" rx="85" ry="24"/><text x="5723" y="1186">VariMore_193</text></g>
<g id="n-ASSIGN_194" class="g"><ellipse cx="5914" cy="1180" rx="82" ry="24"/><text x="5914" y="1186">ASSIGN_194</text></g>
<g id="n-Exp_195" class="k"><ellipse cx="6077.7" cy="1180" rx="58" ry="24"/><text x="6077.7" y="1186">Exp_195</text></g>
<g id="n-Exp_196" class="k"><ellipse cx="6569" cy="1180" rx="57.4" ry="24"/><text x="6569" y="1186">Exp_196</text></g>
<g id="n-ActParamMore_197" class="k"><ellipse cx="6762.8" cy="1180" rx="112" ry="24"/><text x="6762.8" y="1186">ActParamMore_197</text></g>
<g id="n-1_198" class="g"><ellipse cx="929" cy="1276" rx="44" ry="24"/><text x="929" y="1282">1_198</text></g>
<g id="n-20_199" class="g"><ellipse cx="1255" cy="1276" rx="50" ry="24"/><text x="1255" y="1282">20_199</text></g>
<g id="n-INTEGER_200" class="g"><ellipse cx="1692" cy="1276" rx="90" ry="24"/><text x="1692" y="1282">INTEGER_200</text></g>
<g id="n-Factor_201" class="k"><ellipse cx="3453" cy="1276" rx="70" ry="24"/><text x="3453" y="1282">Factor_201</text></g>
<g id="n-OtherFactor_202" class="k"><ellipse cx="3644" cy="1276" rx="97" ry="24"/><text x="3644" y="1282">OtherFactor_202</text></g>
<g id="n-Term_203" class="k"><ellipse cx="4046" cy="1276" rx="64" ry="24"/><text x="4046" y="1282">Term_203</text></g>
<g id="n-OtherTerm_204" class="k"><ellipse cx="4226" cy="1276" rx="91.4" ry="24"/><text x="4226" y="1282">OtherTerm_204</text></g>
<g id="n-v1_205" class="g"><ellipse cx="4455" cy="1276" rx="50" ry="24"/><text x="4455" y="1282">v1_205</text></g>
<g id="n-VariMore_206" class="k"><ellipse cx="4614" cy="1276" rx="84.5" ry="24"/><text x="4614" y="1282">VariMore_206</text></g>
<g id="n-10_207" class="g"><ellipse cx="4803" cy="1276" rx="50" ry="24"/><text x="4803" y="1282">10_207</text></g>
<g id="n-Term_208" class="k"><ellipse cx="5334" cy="1276" rx="64" ry="24"/><text x="5334" y="1282">Term_208</text></g>
<g id="n-OtherTerm_209" class="k"><ellipse cx="5557" cy="1276" rx="91" ry="24"/><text x="5557" y="1282">OtherTerm_209</text></g>
<g id="n-Term_210" class="k"><ellipse cx="6042" cy="1276" rx="64" ry="24"/><text x="6042" y="1282">Term_210</text></g>
<g id="n-OtherTerm_211" class="k"><ellipse cx="6239.4" cy="1276" rx="91" ry="24"/><text x="6239.4" y="1282">OtherTerm_211</text></g>
<g id="n-Term_212" class="k"><ellipse cx="6568.6" cy="1276" rx="64" ry="24"/><text x="6568.6" y="1282">Term_212</text></g>
<g id="n-OtherTerm_213" class="k"><ellipse cx="6748.5" cy="1276" rx="91" ry="24"/><text x="6748.5" y="1282">OtherTerm_213</text></g>
<g id="n-Variable_214" class="k"><ellipse cx="3453" cy="1372" rx="77.5" ry="24"/><text x="3453" y="1378">Variable_214</text></g>
<g id="n-Factor_215" class="k"><ellipse cx="3950" cy="1372" rx="70" ry="24"/><text x="3950" y="1378">Factor_215</text></g>
<g id="n-OtherFactor_216" class="k"><ellipse cx="4141" cy="1372" rx="97.7" ry="24"/><text x="4141" y="1378">OtherFactor_216</text></g>
<g id="n-Factor_217" class="k"><ellipse cx="5142" cy="1372" rx="70" ry="24"/><text x="5142" y="1378">Factor_217</text></g>
<g id="n-OtherFactor_218" class="k"><ellipse cx="5334" cy="1372" rx="97.7" ry="24"/><text x="5334" y="1378">OtherFactor_218</text></g>
<g id="n-AddOp_219" class="k"><ellipse cx="5531.7" cy="1372" rx="75" ry="24"/><text x="5531.7" y="1378">AddOp_219</text></g>
<g id="n-Exp_220" class="k"><ellipse cx="5688" cy="1372" rx="58" ry="24"/><text x="5688" y="1378">Exp_220</text></g>
<g id="n-Factor_221" class="k"><ellipse cx="5850" cy="1372" rx="70" ry="24"/><text x="5850" y="1378">Factor_221</text></g>
<g id="n-OtherFactor_222" class="k"><ellipse cx="6042" cy="1372" rx="97.7" ry="24"/><text x="6042" y="1378">OtherFactor_222</text></g>
<g id="n-AddOp_223" class="k"><ellipse cx="6239" cy="1372" rx="75" ry="24"/><text x="6239" y="1378">AddOp_223</text></g>
<g id="n-Exp_224" class="k"><ellipse cx="6396.7" cy="1372" rx="58" ry="24"/><text x="6396.7" y="1378">Exp_224</text></g>
<g id="n-Factor_225" class="k"><ellipse cx="6568.6" cy="1372" rx="70" ry="24"/><text x="6568.6" y="1378">Factor_225</text></g>
<g id="n-OtherFactor_226" class="k"><ellipse cx="6760" cy="1372" rx="97.7" ry="24"/><text x="6760" y="1378">OtherFactor_226</text></g>
<g id="n-i_227" class="g"><ellipse cx="3378" cy="1468" rx="40" ry="24"/><text x="3378" y="1474">i_227</text></g>
<g id="n-VariMore_228" class="k"><ellipse cx="3527" cy="1468" rx="85" ry="24"/><text x="3527" y="1474">VariMore_228</text></g>
<g id="n-Variable_229" class="k"><ellipse cx="3950" cy="1468" rx="77.5" ry="24"/><text x="3950" y="1474">Variable_229</text></g>
<g id="n-Variable_230" class="k"><ellipse cx="5142" cy="1468" rx="77.5" ry="24"/><text x="5142" y="1474">Variable_230</text></g>
<g id="n-PLUS_231" class="g"><ellipse cx="5352" cy="1468" rx="68" ry="24"/><text x="5352" y="1474">PLUS_231</text></g>
<g id="n-Term_232" class="k"><ellipse cx="5508.6" cy="1468" rx="64" ry="24"/><text x="5508.6" y="1474">Term_232</text></g>
<g id="n-OtherTerm_233" class="k"><ellipse cx="5689" cy="1468" rx="91" ry="24"/><text x="5689" y="1474">OtherTerm_233</text></g>
<g id="n-Variable_234" class="k"><ellipse cx="5882" cy="1468" rx="77.5" ry="24"/><text x="5882" y="1474">Variable_234</text></g>
<g id="n-MINUS_235" class="g"><ellipse cx="6061" cy="1468" rx="76.5" ry="24"/><text x="6061" y="1474">MINUS_235</text></g>
<g id="n-Term_236" class="k"><ellipse cx="6226" cy="1468" rx="64" ry="24"/><text x="6226" y="1474">Term_236</text></g>
<g id="n-OtherTerm_237" class="k"><ellipse cx="6405.8" cy="1468" rx="91" ry="24"/><text x="6405.8" y="1474">OtherTerm_237</text></g>
<g id="n-Variable_238" class="k"><ellipse cx="6599" cy="1468" rx="77.5" ry="24"/><text x="6599" y="1474">Variable_238</text></g>
<g id="n-a_239" class="g"><ellipse cx="3874" cy="1564" rx="43" ry="24"/><text x="3874" y="1570">a_239</text></g>
<g id="n-VariMore_240" class="k"><ellipse cx="4025.5" cy="1564" rx="85" ry="24"/><text x="4025.5" y="1570">VariMore_240</text></g>
<g id="n-v1_241" class="g"><ellipse cx="5063.5" cy="1564" rx="50" ry="24"/><text x="5063.5" y="1570">v1_241</text></g>
<g id="n-VariMore_242" class="k"><ellipse cx="5222" cy="1564" rx="85" ry="24"/><text x="5222" y="1570">VariMore_242</text></g>
<g id="n-Factor_243" class="k"><ellipse cx="5455" cy="1564" rx="70" ry="24"/><text x="5455" y="1570">Factor_243</text></g>
<g id="n-OtherFactor_244" class="k"><ellipse cx="5647" cy="1564" rx="97" ry="24"/><text x="5647" y="1570">OtherFactor_244</text></g>
<g id="n-v1_245" class="g"><ellipse cx="5823" cy="1564" rx="50" ry="24"/><text x="5823" y="1570">v1_245</text></g>
<g id="n-VariMore_246" class="k"><ellipse cx="5981.5" cy="1564" rx="85" ry="24"/><text x="5981.5" y="1570">VariMore_246</text></g>
<g id="n-Factor_247" class="k"><ellipse cx="6192" cy="1564" rx="70" ry="24"/><text x="6192" y="1570">Factor_247</text></g>
<g id="n-OtherFactor_248" class="k"><ellipse cx="6384.6" cy="1564" rx="97.5" ry="24"/><text x="6384.6" y="1570">OtherFactor_248</text></g>
<g id="n-v1_249" class="g"><ellipse cx="6577.7" cy="1564" rx="50" ry="24"/><text x="6577.7" y="1570">v1_249</text></g>
<g id="n-VariMore_250" class="k"><ellipse cx="6736.5" cy="1564" rx="85" ry="24"/><text x="6736.5" y="1570">VariMore_250</text></g>
<g id="n-10_251" class="g"><ellipse cx="5455" cy="1660" rx="50" ry="24"/><text x="5455" y="1666">10_251</text></g>
<g id="n-10_252" class="g"><ellipse cx="6192.5" cy="1660" rx="50" ry="24"/><text x="6192.5" y="1666">10_252</text></g>
</g>
</svg>
